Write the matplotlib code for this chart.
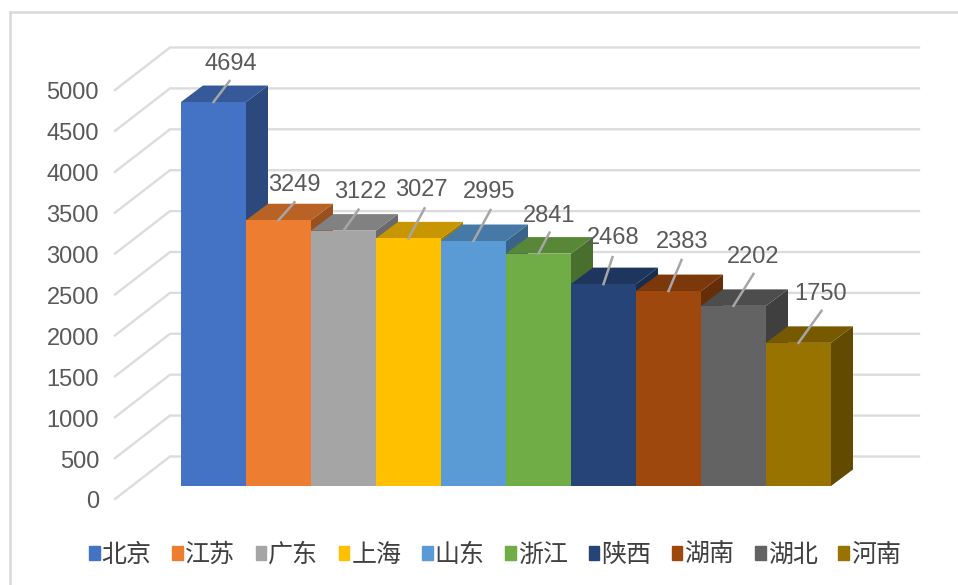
import matplotlib
matplotlib.use("Agg")
import matplotlib.pyplot as plt
from matplotlib.patches import Patch
from matplotlib.colors import to_rgb

plt.rcParams['font.family'] = ['Liberation Sans', 'Noto Sans CJK SC', 'DejaVu Sans']

provinces = ['北京', '江苏', '广东', '上海', '山东', '浙江', '陕西', '湖南', '湖北', '河南']
values = [4694, 3249, 3122, 3027, 2995, 2841, 2468, 2383, 2202, 1750]
colors = ['#4472C4', '#ED7D31', '#A5A5A5', '#FFC000', '#5B9BD5',
          '#70AD47', '#264478', '#9E480E', '#636363', '#997300']
yticks = list(range(0, 5001, 500))
# label centre and leader end, offset from bar top in pixels
label_off = [(17, 38), (16, 35), (17, 39), (13, 48), (16, 49), (11, 38), (10, 46), (14, 49), (20, 49), (22, 49)]
leader_off = [(16, 21), (16, 18), (15, 21), (16, 30), (17, 31), (11, 21), (9, 27), (13, 31), (20, 32), (23, 32)]

W, H = 958, 585
px_per_val = 0.0818   # vertical pixels per unit
bar_w = 65.0          # pixels per category
x0 = 181.0            # left edge of first bar
y0 = 486.0            # base of bars

fig = plt.figure(figsize=(W / 100, H / 100), dpi=100)
ax = fig.add_axes([0, 0, 1, 1])
# x in category units, y in value units
ax.set_xlim(-x0 / bar_w, (W - x0) / bar_w)
ax.set_ylim((y0 - H) / px_per_val, y0 / px_per_val)
ax.axis('off')


def dx(px):
    return px / bar_w


def dy(px):
    return px / px_per_val


# outer frame
frame_c = '#D9D9D9'
ax.plot([dx(9.5 - x0)] * 2, [dy(y0 - H), dy(y0 - 12.5)], color=frame_c, lw=1.8, solid_capstyle='projecting')
ax.plot([dx(9.5 - x0), dx(W - x0)], [dy(y0 - 12.5)] * 2, color=frame_c, lw=1.8)

# walls: front left point of floor, back point of floor
fx, fy = dx(115 - x0), dy(486 - 499)
bx, by = dx(170 - x0), dy(486 - 456.5)
ex = dx(919 - x0)
for t in yticks:
    ax.plot([fx, bx, ex], [fy + t, by + t, by + t], color='#DCDCDC', lw=1.7, zorder=1,
            solid_joinstyle='miter')
    ax.text(dx(99 - x0), fy + t - dy(3.5), str(t), ha='right', va='center', fontsize=17, color='#595959')

# bars, left to right so the next one hides the side of the last
ddx, ddy = dx(22), dy(16.5)
for i, (v, c) in enumerate(zip(values, colors)):
    r, g, b = to_rgb(c)
    top_c = (r * 0.78, g * 0.78, b * 0.78)
    side_c = (r * 0.64, g * 0.64, b * 0.64)
    ax.fill([i + 1, i + 1 + ddx, i + 1 + ddx, i + 1], [0, ddy, v + ddy, v], color=side_c, lw=0, zorder=2 + i)
    ax.fill([i, i + ddx, i + 1 + ddx, i + 1], [v, v + ddy, v + ddy, v], color=top_c, lw=0, zorder=2 + i)
    ax.bar(i, v, width=1, align='edge', color=c, zorder=2 + i)

# leaders and value labels
for i, v in enumerate(values):
    sx, sy = i + 0.5, v
    lx, ly = leader_off[i]
    ax.plot([sx, sx + dx(lx)], [sy, sy + dy(ly)], color='#A6A6A6', lw=1.8, zorder=30)
    ox, oy = label_off[i]
    ax.text(sx + dx(ox), sy + dy(oy), str(v), ha='center', va='center', fontsize=17, color='#595959', zorder=31)

handles = [Patch(color=c, label=p) for p, c in zip(provinces, colors)]
ax.legend(handles=handles, ncol=10, loc='center', bbox_to_anchor=(495 / W, 1 - 555 / H), frameon=False,
          fontsize=18, labelcolor='#404040', handlelength=0.42, handleheight=0.44, handletextpad=0.08,
          columnspacing=0.83, borderpad=0, borderaxespad=0)

fig.savefig('out.png', dpi=100)
